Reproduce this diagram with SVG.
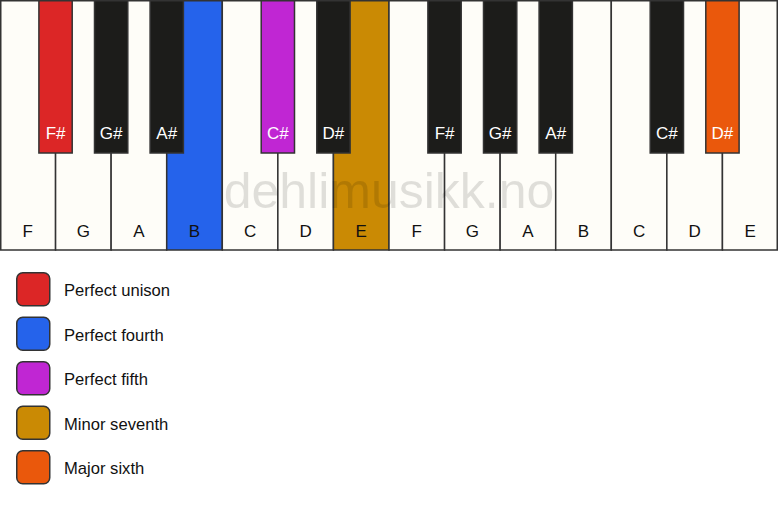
<svg xmlns="http://www.w3.org/2000/svg" width="778" height="506" viewBox="0 0 778 506">
<style>
.w{fill:#fefdf8;stroke:#333;stroke-width:1.5}
.b{stroke:#333;stroke-width:1.5}
.k{fill:#1c1c1a}
.wl{font-family:"Liberation Sans",Arial,sans-serif;font-size:17px;fill:#111;text-anchor:middle}
.bl{font-family:"Liberation Sans",Arial,sans-serif;font-size:17px;fill:#fff;text-anchor:middle}
.lg{font-family:"Liberation Sans",Arial,sans-serif;font-size:16.6px;fill:#111}
.sw{stroke:#333;stroke-width:1.5}
</style>
<rect width="778" height="506" fill="#ffffff"/>
<g id="white-keys">
<g id="w1"><rect class="w" x="0.75" y="0.75" width="54.82" height="249.25"/><text class="wl" x="27.8" y="236.5">F</text></g>
<g id="w2"><rect class="w" x="55.57" y="0.75" width="55.57" height="249.25"/><text class="wl" x="83.4" y="236.5">G</text></g>
<g id="w3"><rect class="w" x="111.14" y="0.75" width="55.57" height="249.25"/><text class="wl" x="138.9" y="236.5">A</text></g>
<g id="w4"><rect class="w" x="166.71" y="0.75" width="55.57" height="249.25" style="fill:#2563eb"/><text class="wl" x="194.5" y="236.5">B</text></g>
<g id="w5"><rect class="w" x="222.29" y="0.75" width="55.57" height="249.25"/><text class="wl" x="250.1" y="236.5">C</text></g>
<g id="w6"><rect class="w" x="277.86" y="0.75" width="55.57" height="249.25"/><text class="wl" x="305.6" y="236.5">D</text></g>
<g id="w7"><rect class="w" x="333.43" y="0.75" width="55.57" height="249.25" style="fill:#ca8a04"/><text class="wl" x="361.2" y="236.5">E</text></g>
<g id="w8"><rect class="w" x="389" y="0.75" width="55.57" height="249.25"/><text class="wl" x="416.8" y="236.5">F</text></g>
<g id="w9"><rect class="w" x="444.57" y="0.75" width="55.57" height="249.25"/><text class="wl" x="472.4" y="236.5">G</text></g>
<g id="w10"><rect class="w" x="500.14" y="0.75" width="55.57" height="249.25"/><text class="wl" x="527.9" y="236.5">A</text></g>
<g id="w11"><rect class="w" x="555.71" y="0.75" width="55.57" height="249.25"/><text class="wl" x="583.5" y="236.5">B</text></g>
<g id="w12"><rect class="w" x="611.29" y="0.75" width="55.57" height="249.25"/><text class="wl" x="639.1" y="236.5">C</text></g>
<g id="w13"><rect class="w" x="666.86" y="0.75" width="55.57" height="249.25"/><text class="wl" x="694.6" y="236.5">D</text></g>
<g id="w14"><rect class="w" x="722.43" y="0.75" width="54.82" height="249.25"/><text class="wl" x="750.2" y="236.5">E</text></g>
</g>
<g id="black-keys">
<g id="b1"><rect class="b" x="38.9" y="0.75" width="33.3" height="152.25" fill="#dc2626"/><text class="bl" x="55.6" y="139.3">F#</text></g>
<g id="b2"><rect class="b k" x="94.5" y="0.75" width="33.3" height="152.25"/><text class="bl" x="111.1" y="139.3">G#</text></g>
<g id="b3"><rect class="b k" x="150.1" y="0.75" width="33.3" height="152.25"/><text class="bl" x="166.7" y="139.3">A#</text></g>
<g id="b4"><rect class="b" x="261.2" y="0.75" width="33.3" height="152.25" fill="#c026d3"/><text class="bl" x="277.9" y="139.3">C#</text></g>
<g id="b5"><rect class="b k" x="316.8" y="0.75" width="33.3" height="152.25"/><text class="bl" x="333.4" y="139.3">D#</text></g>
<g id="b6"><rect class="b k" x="427.9" y="0.75" width="33.3" height="152.25"/><text class="bl" x="444.6" y="139.3">F#</text></g>
<g id="b7"><rect class="b k" x="483.5" y="0.75" width="33.3" height="152.25"/><text class="bl" x="500.1" y="139.3">G#</text></g>
<g id="b8"><rect class="b k" x="539.1" y="0.75" width="33.3" height="152.25"/><text class="bl" x="555.7" y="139.3">A#</text></g>
<g id="b9"><rect class="b k" x="650.2" y="0.75" width="33.3" height="152.25"/><text class="bl" x="666.9" y="139.3">C#</text></g>
<g id="b10"><rect class="b" x="705.8" y="0.75" width="33.3" height="152.25" fill="#ea580c"/><text class="bl" x="722.4" y="139.3">D#</text></g>
</g>
<text id="watermark" x="389" y="208" font-family="'Liberation Sans',Arial,sans-serif" font-size="50" fill="#000" fill-opacity="0.12" text-anchor="middle">dehlimusikk.no</text>
<g id="legend">
<g id="lg1"><rect class="sw" x="16.75" y="272.75" width="33" height="33" rx="6" fill="#dc2626"/><text class="lg" x="64" y="296">Perfect unison</text></g>
<g id="lg2"><rect class="sw" x="16.75" y="317.25" width="33" height="33" rx="6" fill="#2563eb"/><text class="lg" x="64" y="340.5">Perfect fourth</text></g>
<g id="lg3"><rect class="sw" x="16.75" y="361.75" width="33" height="33" rx="6" fill="#c026d3"/><text class="lg" x="64" y="385">Perfect fifth</text></g>
<g id="lg4"><rect class="sw" x="16.75" y="406.25" width="33" height="33" rx="6" fill="#ca8a04"/><text class="lg" x="64" y="429.5">Minor seventh</text></g>
<g id="lg5"><rect class="sw" x="16.75" y="450.75" width="33" height="33" rx="6" fill="#ea580c"/><text class="lg" x="64" y="474">Major sixth</text></g>
</g>
</svg>
